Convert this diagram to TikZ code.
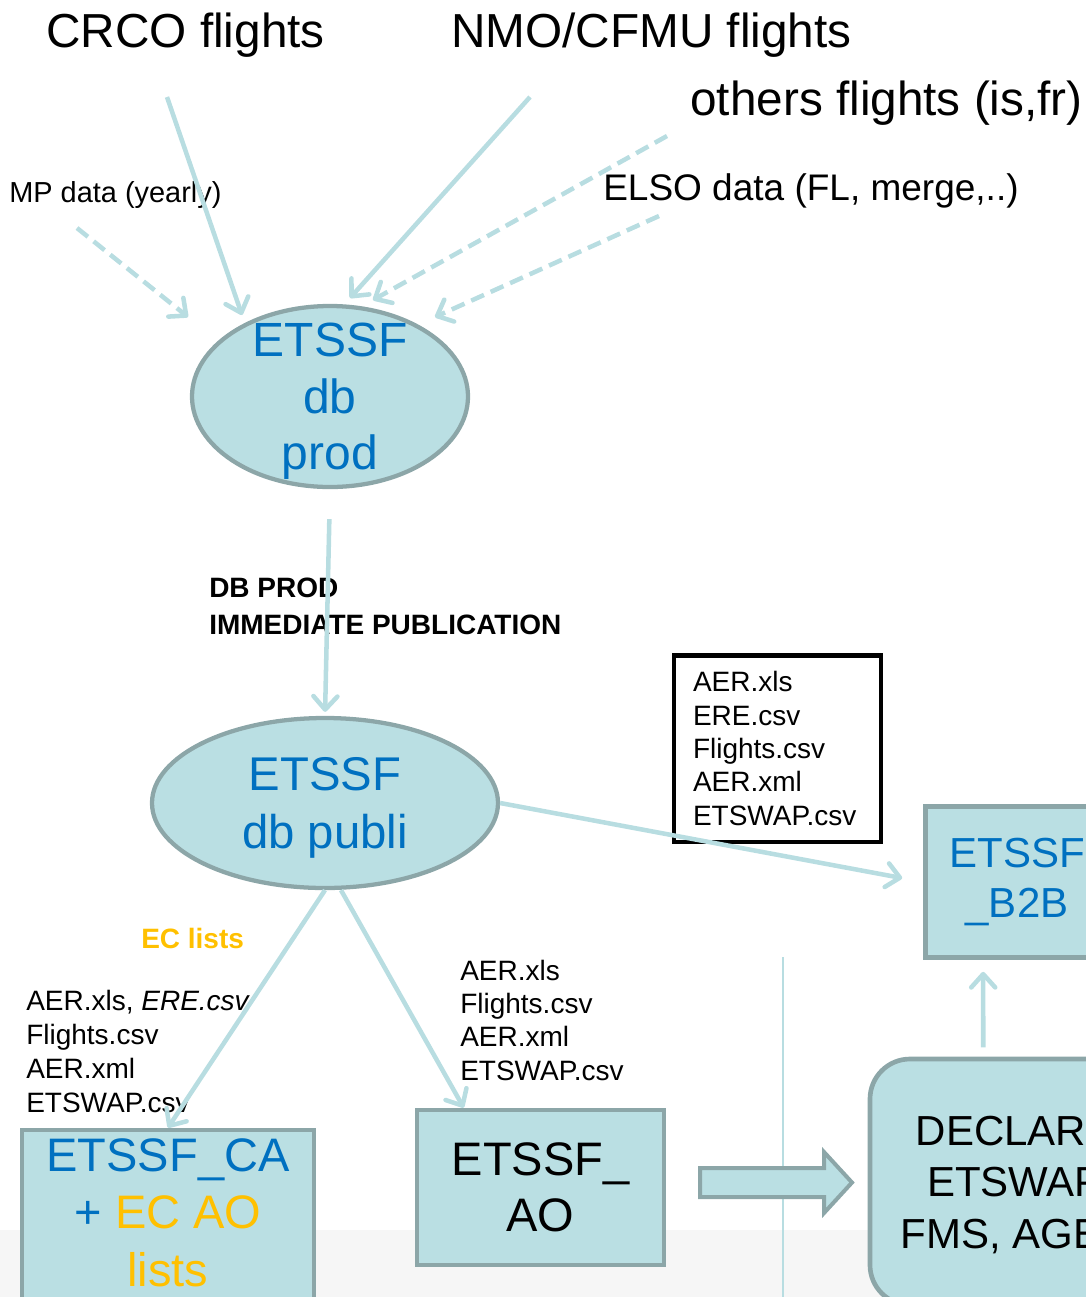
\documentclass[tikz,border=0pt]{standalone}
\usepackage{fontspec}
\setmainfont{Liberation Sans}
\usetikzlibrary{arrows.meta,shapes.geometric,calc}
\definecolor{lblue}{HTML}{BADFE3}
\definecolor{abl}{HTML}{B8DDE1}
\definecolor{bord}{HTML}{8CA6A8}
\definecolor{tblue}{HTML}{0070C0}
\definecolor{torange}{HTML}{FFC000}
\definecolor{band}{HTML}{F6F6F6}
\newcommand\fsz[2]{\fontsize{#1}{#2}\selectfont}
\begin{document}
\begin{tikzpicture}[x=0.75pt,y=-0.75pt,
  arr/.style={draw=abl,line width=3.4pt,-{Straight Barb[length=10pt,width=18pt,round]}},
  darr/.style={arr,dash pattern=on 10.5pt off 5.5pt},
  lbox/.style={draw=bord,fill=lblue,line width=3.5pt,inner sep=0pt,align=center},
  ell/.style={ellipse,draw=bord,fill=lblue,line width=3.2pt,inner sep=0pt},
  titletxt/.style={anchor=base west,inner sep=0pt,font=\fsz{35.8pt}{43pt}},
  smalltxt/.style={anchor=west,inner sep=0pt,align=left,font=\fsz{21pt}{25.3pt}}]
\useasboundingbox (0,0) rectangle (1086,1297);
\clip (0,0) rectangle (1086,1297);
\fill[band] (0,1230) rectangle (1086,1297);
\draw[abl,line width=1.5pt] (783,957) -- (783,1297);

% titles
\node[titletxt] (crco) at (46,47) {CRCO flights};
\node[titletxt] (nmo) at (451,47) {NMO/CFMU flights};
\node[titletxt] (others) at (690,115) {others flights (is,fr)};
\node[anchor=base west,inner sep=0pt,font=\fsz{21.7pt}{26pt}] (mp) at (9,202) {MP data (yearly)};
\node[anchor=base west,inner sep=0pt,font=\fsz{27.75pt}{33pt}] (elso) at (603,200) {ELSO data (FL, merge,..)};

% ellipses
\node[ell,minimum width=207pt,minimum height=135.75pt] (prod) at (330,396.5) {};
\node[inner sep=0pt,align=center,text=tblue,text depth=0pt,font=\fsz{36pt}{42.4pt}] (prodtxt) at (prod.center) {ETSSF\\db\\prod};
\node[ell,minimum width=259.5pt,minimum height=127.5pt,align=center,text=tblue,text depth=0pt,font=\fsz{35.5pt}{43.5pt}] (publi) at (325,803) {ETSSF\\db publi};

% boxes
\node[draw=black,line width=3.5pt,minimum width=155.25pt,minimum height=140pt,inner sep=0pt,align=left,text width=126.75pt,font=\fsz{21pt}{25.1pt}] (files) at (777.5,748.5) {AER.xls\\ERE.csv\\Flights.csv\\AER.xml\\ETSWAP.csv};
\node[lbox,minimum width=137.25pt,minimum height=113.25pt,text=tblue,font=\fsz{31.5pt}{37.5pt}] (b2b) at (1017,882) {ETSSF\\\_B2B};
\node[lbox,rounded corners=30pt,minimum width=217.5pt,minimum height=184.5pt,text depth=0pt,font=\fsz{31.5pt}{38.6pt}] (declar) at (1015,1182) {DECLARE\\ETSWAP\\FMS, AGES};
\node[lbox,minimum width=185.25pt,minimum height=116.25pt,text depth=0pt,font=\fsz{35.25pt}{42pt}] (ao) at (540.5,1187.5) {ETSSF\_\\AO};
\node[lbox,minimum width=219pt,minimum height=135pt,text depth=11.25pt,font=\fsz{35.25pt}{43pt}] (ca) at (168,1220) {\textcolor{tblue}{ETSSF\_CA}\\\textcolor{tblue}{+} \textcolor{torange}{EC AO}\\\textcolor{torange}{lists}};

% labels
\node[anchor=west,inner sep=0pt,align=left,font=\bfseries\fsz{21pt}{27.75pt}] (dbprod) at (209,606.5) {DB PROD\\IMMEDIATE PUBLICATION};
\node[anchor=base west,inner sep=0pt,text=torange,font=\bfseries\fsz{21pt}{25pt}] (eclists) at (141,948) {EC lists};
\node[smalltxt,font=\fsz{21pt}{25.5pt}] (leftfiles) at (26,1051) {AER.xls, \textit{ERE.csv}\\Flights.csv\\AER.xml\\ETSWAP.csv};
\node[smalltxt,font=\fsz{21pt}{25pt}] (rightfiles) at (460,1020) {AER.xls\\Flights.csv\\AER.xml\\ETSWAP.csv};

% incoming arrows
\coordinate (crcoS) at (167,97);
\coordinate (nmoS) at (530,97);
\coordinate (othS) at (667,136);
\coordinate (elsoS) at (659,216);
\coordinate (mpS) at (77,228);
\draw[arr] (crcoS) -- ([shift={(-88,-81.5)}]prod.center);
\draw[arr] (nmoS) -- ([shift={(20,-98.5)}]prod.center);
\draw[darr] (othS) -- ([shift={(43,-96.5)}]prod.center);
\draw[darr] (elsoS) -- ([shift={(105,-79.5)}]prod.center);
\draw[darr] (mpS) -- ([shift={(-142,-79.5)}]prod.center);

% flow arrows
\draw[arr,shorten <=22.5pt,shorten >=3pt] (prod.south) -- (publi.north);
\draw[arr,shorten >=16pt] (publi.east) -- (b2b.west);
\draw[arr] (publi.south) -- (ca.north);
\draw[arr] ([xshift=12pt]publi.south) -- ([xshift=36.75pt]ao.north west);
\draw[arr,shorten <=7pt,shorten >=9pt] ([xshift=86.7pt]declar.north west) -- ([xshift=45pt]b2b.south west);

% block arrow
\draw[draw=bord,fill=lblue,line width=3pt] (700,1168) -- (824,1168) -- (824,1152) -- (852,1182.5) -- (824,1213) -- (824,1197) -- (700,1197) -- cycle;
\end{tikzpicture}
\end{document}
